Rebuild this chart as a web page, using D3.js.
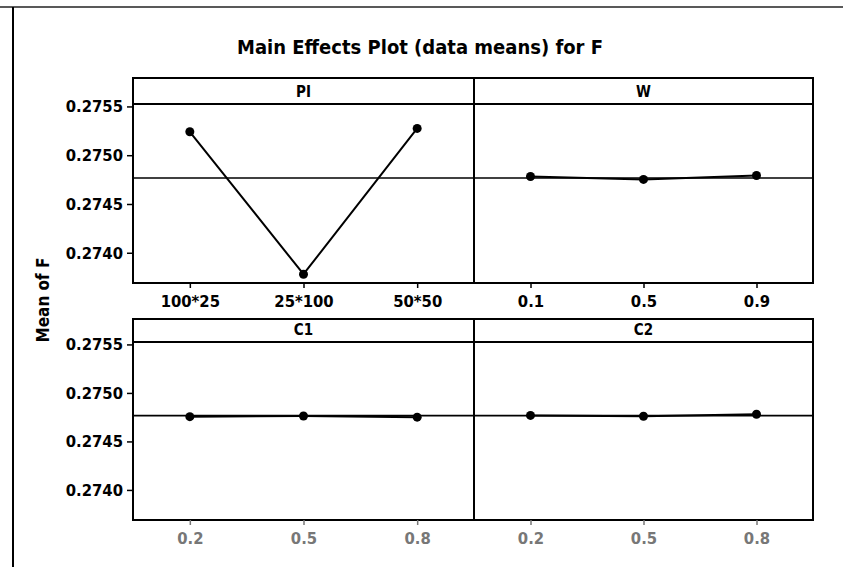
<!DOCTYPE html>
<html><head><meta charset="utf-8">
<script src="https://cdn.jsdelivr.net/npm/d3@7"></script>
<style>body{margin:0;background:#fff}svg{display:block}</style>
</head><body>
<script>
const title = "Main Effects Plot (data means) for F";
const yTitle = "Mean of F";
const factors = ["PI", "W", "C1", "C2"];
const levelsPI = ["100*25", "25*100", "50*50"];
const levelsW = ["0.1", "0.5", "0.9"];
const levelsC1 = ["0.2", "0.5", "0.8"];
const levelsC2 = ["0.2", "0.5", "0.8"];
const meansPI = [0.27524, 0.27378, 0.275275];
const meansW = [0.274782, 0.274752, 0.274792];
const meansC1 = [0.274755, 0.274762, 0.274750];
const meansC2 = [0.274768, 0.274760, 0.274780];
const grandMean = 0.274766;
const yTicks = [0.2740, 0.2745, 0.2750, 0.2755];
const yDomain = [0.27369, 0.275525];

const W = 843, H = 567;
const svg = d3.select("body").append("svg").attr("width", W).attr("height", H);
const font = "'DejaVu Sans Condensed', 'DejaVu Sans', sans-serif";

// outer frame lines
svg.append("line").attr("x1", 0).attr("x2", 843).attr("y1", 7).attr("y2", 7).attr("stroke", "#222").attr("stroke-width", 1.5);
svg.append("line").attr("x1", 13).attr("x2", 13).attr("y1", 7).attr("y2", 567).attr("stroke", "#000").attr("stroke-width", 2);

svg.append("text").attr("x", 420).attr("y", 54).attr("text-anchor", "middle")
  .attr("font-family", font).attr("font-weight", "bold").attr("font-size", 19)
  .attr("textLength", 366).attr("lengthAdjust", "spacingAndGlyphs").text(title);

svg.append("text").attr("transform", "translate(49,300) rotate(-90)").attr("text-anchor", "middle")
  .attr("font-family", font).attr("font-weight", "bold").attr("font-size", 17).text(yTitle);

const panels = [
  {name: factors[0], levels: levelsPI, means: meansPI, x0: 133, x1: 474, top: 78, stripB: 104, bottom: 283, col: 0, tickColor: "#000"},
  {name: factors[1], levels: levelsW, means: meansW, x0: 474, x1: 813, top: 78, stripB: 104, bottom: 283, col: 1, tickColor: "#000"},
  {name: factors[2], levels: levelsC1, means: meansC1, x0: 133, x1: 474, top: 319, stripB: 342, bottom: 520, col: 0, tickColor: "#777"},
  {name: factors[3], levels: levelsC2, means: meansC2, x0: 474, x1: 813, top: 319, stripB: 342, bottom: 520, col: 1, tickColor: "#777"}
];

panels.forEach(p => {
  const g = svg.append("g");
  const x = d3.scalePoint().domain(p.levels).range([p.x0, p.x1]).padding(0.5);
  const y = d3.scaleLinear().domain(yDomain).range([p.bottom, p.stripB]);
  g.append("rect").attr("x", p.x0).attr("y", p.top).attr("width", p.x1 - p.x0).attr("height", p.bottom - p.top)
    .attr("fill", "#fff").attr("stroke", "#000").attr("stroke-width", 2);
  g.append("line").attr("x1", p.x0).attr("x2", p.x1).attr("y1", p.stripB).attr("y2", p.stripB).attr("stroke", "#000").attr("stroke-width", 1.8);
  g.append("text").attr("x", (p.x0 + p.x1) / 2).attr("y", p.stripB - 7).attr("text-anchor", "middle")
    .attr("font-family", font).attr("font-weight", "bold").attr("font-size", 15).text(p.name);
  g.append("line").attr("x1", p.x0).attr("x2", p.x1).attr("y1", y(grandMean)).attr("y2", y(grandMean)).attr("stroke", "#000").attr("stroke-width", 1.6);
  if (p.col === 0) {
    const ya = g.append("g").attr("transform", `translate(${p.x0},0)`)
      .call(d3.axisLeft(y).tickValues(yTicks).tickFormat(d3.format(".4f")).tickSize(6).tickSizeOuter(0));
    ya.select(".domain").remove();
    ya.selectAll("line").attr("stroke", "#000").attr("stroke-width", 1.5);
    ya.selectAll("text").attr("font-family", font).attr("font-weight", "bold").attr("font-size", 16.5).attr("fill", "#000").attr("dx", "-1");
  }
  const xa = g.append("g").attr("transform", `translate(0,${p.bottom})`)
    .call(d3.axisBottom(x).tickSize(5).tickSizeOuter(0));
  xa.select(".domain").remove();
  xa.selectAll("line").attr("stroke", p.tickColor).attr("stroke-width", 1.5);
  xa.selectAll("text").attr("font-family", font).attr("font-weight", "bold").attr("font-size", 16.5).attr("fill", p.tickColor).attr("dy", "0.95em");
  const pts = p.levels.map((l, i) => [x(l), y(p.means[i])]);
  g.append("path").attr("d", d3.line()(pts)).attr("fill", "none").attr("stroke", "#000").attr("stroke-width", 2);
  g.selectAll("circle").data(pts).join("circle").attr("cx", d => d[0]).attr("cy", d => d[1]).attr("r", 4.5).attr("fill", "#000");
});
</script>
</body></html>
